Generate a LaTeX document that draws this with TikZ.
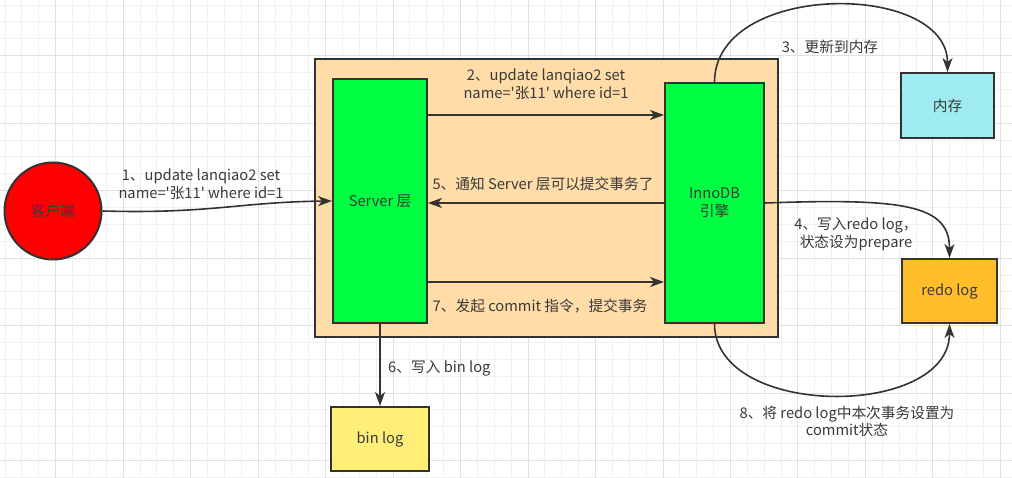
\documentclass[tikz,border=0pt]{standalone}
\usepackage{fontspec}
\setmainfont{Noto Sans CJK SC}[Ligatures=TeXOff]
\usetikzlibrary{arrows.meta}
\definecolor{txt}{HTML}{3A3A3A}
\definecolor{edge}{HTML}{333333}
\definecolor{gridminor}{HTML}{F0F0F0}
\definecolor{gridmajor}{HTML}{E0E0E0}
\definecolor{cred}{HTML}{FF0000}
\definecolor{cgreen}{HTML}{00FF40}
\definecolor{cpeach}{HTML}{FFDCA8}
\definecolor{ccyan}{HTML}{9EECF2}
\definecolor{corange}{HTML}{FFBE2A}
\definecolor{cyellow}{HTML}{FFEF78}
\tikzset{
  box/.style={draw=edge, line width=2pt, rectangle, inner sep=0pt, text=txt,
    font=\fontsize{14.7}{17.6}\selectfont, align=center},
  lbl/.style={text=txt, font=\fontsize{14.7}{17.6}\selectfont, align=center, inner sep=0pt},
  conn/.style={draw=edge, line width=1.6pt, -{Stealth[length=14pt,width=10pt,inset=4pt]}},
}
\begin{document}
\begin{tikzpicture}[x=1pt,y=-1pt]
\useasboundingbox (0,0) rectangle (1012,478);
\fill[white] (0,0) rectangle (1012,478);
% grid
\foreach \i in {0,...,59} {
  \pgfmathsetmacro{\p}{5+16.87*\i}
  \draw[gridminor, line width=0.8pt] (\p,0) -- (\p,478);
}
\foreach \i in {0,...,28} {
  \pgfmathsetmacro{\p}{5+16.87*\i}
  \draw[gridminor, line width=0.8pt] (0,\p) -- (1012,\p);
}
\foreach \i in {3,7,...,59} {
  \pgfmathsetmacro{\p}{5+16.87*\i}
  \draw[gridmajor, line width=0.8pt] (\p,0) -- (\p,478);
}
\foreach \i in {3,7,...,27} {
  \pgfmathsetmacro{\p}{5+16.87*\i}
  \draw[gridmajor, line width=0.8pt] (0,\p) -- (1012,\p);
}
% nodes
\node[box, fill=cpeach, minimum width=463pt, minimum height=278pt] (outer) at (546.5,198) {};
\node[box, fill=cgreen, minimum width=94pt, minimum height=244pt] (server) at (380,201) {Server 层};
\node[box, fill=cgreen, minimum width=99pt, minimum height=240pt] (inno) at (714.5,203) {InnoDB\\引擎};
\node[box, circle, fill=cred, minimum size=97pt] (client) at (53,211) {客户端};
\node[box, fill=ccyan, minimum width=93pt, minimum height=65pt] (mem) at (947.5,105.5) {内存};
\node[box, fill=corange, minimum width=95pt, minimum height=64pt] (redo) at (949.5,291) {redo log};
\node[box, fill=cyellow, minimum width=98pt, minimum height=64pt] (binlog) at (380,439) {bin log};
\coordinate (y2) at (0,115);
\coordinate (y7) at (0,282);
% connectors
\draw[conn] (client.east) .. controls (210,214) and (240,202) .. (server.west);
\draw[conn] (server.east|-y2) -- (inno.west|-y2);
\draw[conn] (inno.west) -- (server.east|-inno.west);
\draw[conn] (server.east|-y7) -- (inno.west|-y7);
\draw[conn] (inno.north) .. controls (715,-19) and (947.5,-19) .. (mem.north);
\draw[conn] (inno.east) .. controls (905,198) and (949.5,205) .. (redo.north);
\draw[conn] (server.south) -- (binlog.north);
\draw[conn] (inno.south) .. controls (715,419) and (949.5,419) .. (redo.south);
% labels
\node[lbl] (l1) at (201,184.5) {1、update lanqiao2 set\\name=\char39张11\char39{} where id=1};
\node[lbl] (l2) at (546,84) {2、update lanqiao2 set\\name=\char39张11\char39{} where id=1};
\node[lbl] (l3) at (830,47) {3、更新到内存};
\node[lbl] (l4) at (856,234) {4、写入redo log，\\状态设为prepare};
\node[lbl] (l5) at (543,184) {5、通知 Server 层可以提交事务了};
\node[lbl, anchor=west] (l6) at (388,368) {6、写入 bin log};
\node[lbl] (l7) at (540,306) {7、发起 commit 指令，提交事务};
\node[lbl] (l8) at (847,421.5) {8、将 redo log中本次事务设置为\\commit状态};
\end{tikzpicture}
\end{document}
